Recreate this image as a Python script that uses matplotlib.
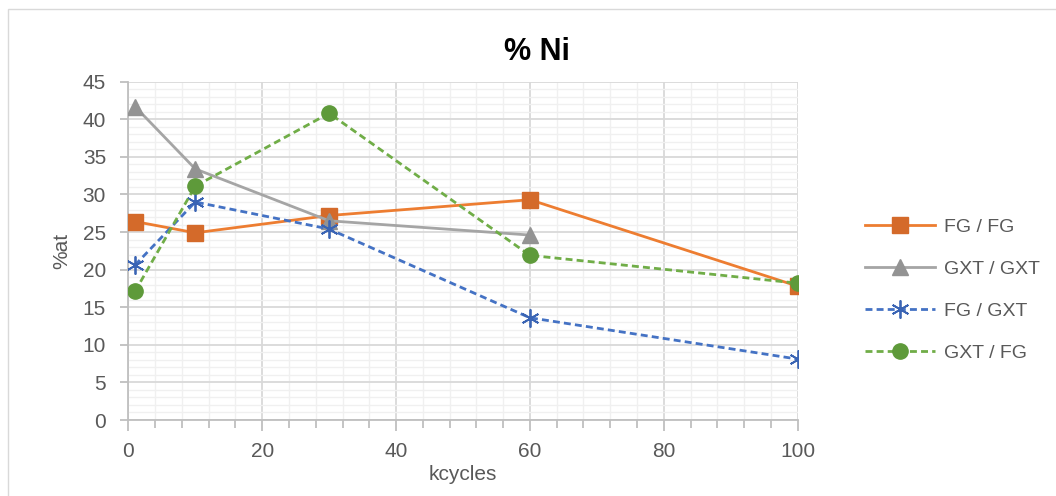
import numpy as np
import matplotlib
matplotlib.use('Agg')
import matplotlib.pyplot as plt
from matplotlib.ticker import MultipleLocator
from matplotlib.patches import Rectangle

# data
kcycles = [1, 10, 30, 60, 100]
fg_fg = [26.4, 24.9, 27.2, 29.3, 17.8]
gxt_gxt_x = [1, 10, 30, 60]
gxt_gxt = [41.7, 33.4, 26.5, 24.6]
fg_gxt = [20.6, 29.0, 25.4, 13.6, 8.1]
gxt_fg = [17.1, 31.1, 40.8, 21.9, 18.2]

plt.rcParams['font.family'] = ['Liberation Sans', 'DejaVu Sans']
txt = '#595959'

fig = plt.figure(figsize=(10.56, 4.96), dpi=100)
fig.patches.append(Rectangle((8/1056, -0.1), 1.2, 1 - 9/496 + 0.1, transform=fig.transFigure,
                             fill=False, edgecolor='#D9D9D9', lw=1.0))
ax = fig.add_axes([128.3/1056, 1 - 420/496, (797.7 - 128.3)/1056, (420 - 81.7)/496])

dash = (0, (2.5, 1.5))
ax.plot(kcycles, fg_fg, color='#ED7D31', lw=2, marker='s', ms=11,
        mfc='#D46A2A', mec='#D46A2A', label='FG / FG', zorder=3)
ax.plot(gxt_gxt_x, gxt_gxt, color='#A5A5A5', lw=2, marker='^', ms=11,
        mfc='#939393', mec='#939393', label='GXT / GXT', zorder=3)
ax.plot(kcycles, fg_gxt, color='#4472C4', lw=2, ls=dash, marker=(6, 2, 0), ms=13,
        mec='#3A64B4', mew=1.3, label='FG / GXT', zorder=3)
ax.plot(kcycles, gxt_fg, color='#70AD47', lw=2, ls=dash, marker='o', ms=11,
        mfc='#5E9A3A', mec='#5E9A3A', label='GXT / FG', zorder=3)

ax.set_xlim(0, 100)
ax.set_ylim(0, 45)
ax.xaxis.set_major_locator(MultipleLocator(20))
ax.xaxis.set_minor_locator(MultipleLocator(4))
ax.yaxis.set_major_locator(MultipleLocator(5))
ax.yaxis.set_minor_locator(MultipleLocator(1))
ax.grid(which='minor', color='#F0F0F0', lw=1.0)
ax.grid(which='major', color='#D9D9D9', lw=1.3)
ax.set_axisbelow(True)

for s in ['top', 'right']:
    ax.spines[s].set_visible(False)
for s in ['left', 'bottom']:
    ax.spines[s].set_color('#BFBFBF')
    ax.spines[s].set_linewidth(1.3)
ax.tick_params(axis='both', which='both', colors='#BFBFBF', labelcolor=txt,
               labelsize=15, width=1.3)
ax.tick_params(axis='x', which='major', length=8, pad=8)
ax.tick_params(axis='x', which='minor', length=6)
ax.tick_params(axis='y', which='major', length=6, pad=10)
ax.tick_params(axis='y', which='minor', length=0)

ax.set_xlabel('kcycles', fontsize=15, color=txt, labelpad=3)
ax.set_ylabel('%at', fontsize=15, color=txt, labelpad=8)
fig.text(537/1056, 1 - 52/496, '% Ni', ha='center', va='center',
         fontsize=22, fontweight='bold', color='black')

ax.legend(loc='center left', bbox_to_anchor=(847/1056, 1 - 290/496),
          bbox_transform=fig.transFigure, frameon=False, fontsize=14,
          labelcolor=txt, handlelength=3.6, handletextpad=0.5, labelspacing=1.25)

fig.savefig('out.png', dpi=100)
